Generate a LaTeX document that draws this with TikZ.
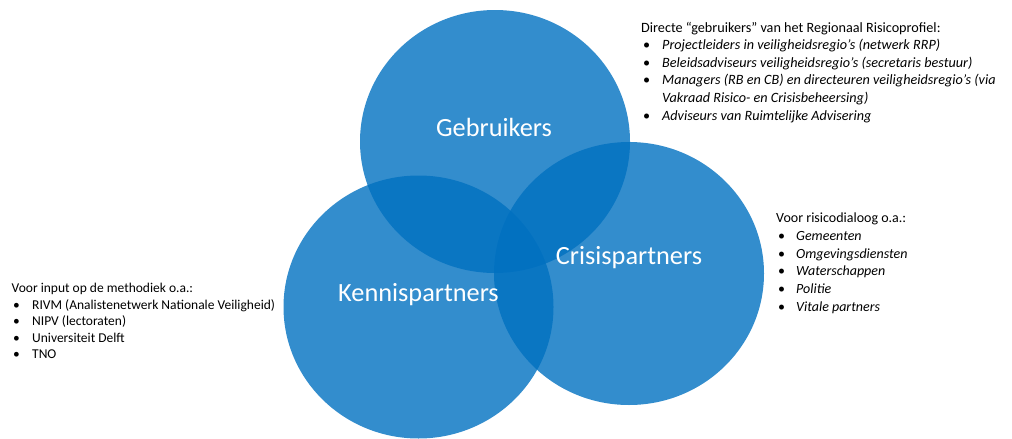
\documentclass[tikz,border=0pt]{standalone}
\usepackage{fontspec}
\setmainfont{Carlito}
\usetikzlibrary{shapes.geometric}
\definecolor{vennblue}{HTML}{0070C0}
\definecolor{txtcol}{HTML}{000000}
\begin{document}
\begin{tikzpicture}[x=1pt,y=-1pt,
  venn/.style={ellipse, fill=vennblue, fill opacity=0.8, minimum width=270pt, minimum height=263pt, inner sep=0pt},
  vlabel/.style={text=white, font=\fontsize{26.3}{31}\selectfont, inner sep=0pt},
  txt/.style={anchor=mid west, inner sep=0pt, text=txtcol, font=\fontsize{14.2}{17}\selectfont},
  itm/.style={txt, font=\fontsize{14.2}{17}\selectfont\itshape},
  rtxt/.style={anchor=mid west, inner sep=0pt, text=txtcol, font=\fontsize{14}{17}\selectfont},
  ritm/.style={rtxt, font=\fontsize{14}{17}\selectfont\itshape},
  ltxt/.style={anchor=mid west, inner sep=0pt, text=txtcol, font=\fontsize{13.5}{16}\selectfont}]
\useasboundingbox (0,0) rectangle (1012,439);
% circles
\node[venn] (geb) at (495,141.5) {};
\node[venn] (ken) at (418.5,307) {};
\node[venn] (cri) at (629,273.5) {};
% labels
\node[vlabel] (gebl) at (494,127) {Gebruikers};
\node[vlabel] (kenl) at (418.5,295) {Kennispartners};
\node[vlabel] (cril) at (629,258) {Crisispartners};
% top right block
\node[txt] (th) at (641,30) {Directe “gebruikers” van het Regionaal Risicoprofiel:};
\node[txt] (tb1) at (643,47.3) {•};
\node[txt] (tb2) at (643,64.7) {•};
\node[txt] (tb3) at (643,82) {•};
\node[txt] (tb4) at (643,117.7) {•};
\node[itm] (ti1) at (662,47.3) {Projectleiders in veiligheidsregio’s (netwerk RRP)};
\node[itm] (ti2) at (662,64.7) {Beleidsadviseurs veiligheidsregio’s (secretaris bestuur)};
\node[itm] (ti3) at (662,82) {Managers (RB en CB) en directeuren veiligheidsregio’s (via};
\node[itm] (ti3b) at (662,99.7) {Vakraad Risico- en Crisisbeheersing)};
\node[itm] (ti4) at (662,117.7) {Adviseurs van Ruimtelijke Advisering};
% right block
\node[rtxt] (rh) at (776,220.5) {Voor risicodialoog o.a.:};
\node[rtxt] (rb1) at (778,238.3) {•};
\node[rtxt] (rb2) at (778,256) {•};
\node[rtxt] (rb3) at (778,273.6) {•};
\node[rtxt] (rb4) at (778,291.2) {•};
\node[rtxt] (rb5) at (778,308.8) {•};
\node[ritm] (ri1) at (796,238.3) {Gemeenten};
\node[ritm] (ri2) at (796,256) {Omgevingsdiensten};
\node[ritm] (ri3) at (796,273.6) {Waterschappen};
\node[ritm] (ri4) at (796,291.2) {Politie};
\node[ritm] (ri5) at (796,308.8) {Vitale partners};
% left block
\node[ltxt] (lh) at (11.5,290) {Voor input op de methodiek o.a.:};
\node[ltxt] (lb1) at (13,306.7) {•};
\node[ltxt] (lb2) at (13,323.3) {•};
\node[ltxt] (lb3) at (13,340) {•};
\node[ltxt] (lb4) at (13,356.5) {•};
\node[ltxt] (li1) at (32,306.7) {RIVM (Analistenetwerk Nationale Veiligheid)};
\node[ltxt] (li2) at (32,323.3) {NIPV (lectoraten)};
\node[ltxt] (li3) at (32,340) {Universiteit Delft};
\node[ltxt] (li4) at (32,356.5) {TNO};
\end{tikzpicture}
\end{document}
